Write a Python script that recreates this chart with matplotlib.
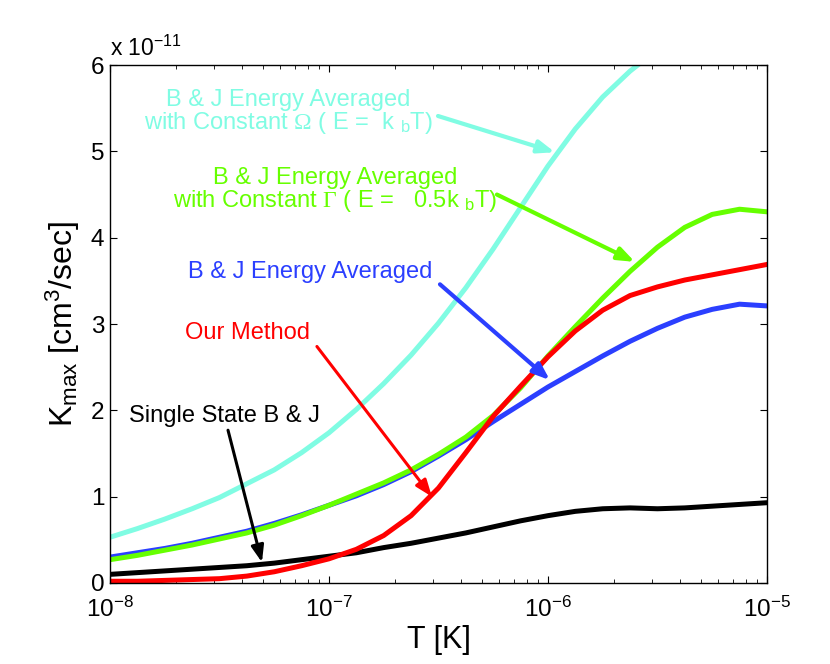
import numpy as np
import matplotlib
matplotlib.use('Agg')
import matplotlib.pyplot as plt

plt.rcParams['font.family'] = ['Liberation Sans', 'DejaVu Sans']
plt.rcParams['mathtext.fontset'] = 'custom'
plt.rcParams['mathtext.rm'] = 'Liberation Sans'
plt.rcParams['mathtext.it'] = 'Liberation Sans:italic'
plt.rcParams['mathtext.sf'] = 'Liberation Serif'

# temperature grid, log10(T [K])
log_t = [-8, -7.875, -7.75, -7.625, -7.5, -7.375, -7.25, -7.125, -7, -6.875,
         -6.75, -6.625, -6.5, -6.375, -6.25, -6.125, -6, -5.875, -5.75, -5.625,
         -5.5, -5.375, -5.25, -5.125, -5]

# K_max in units of 1e-11 cm^3/sec
k_omega = [0.53, 0.63, 0.74, 0.86, 0.99, 1.15, 1.31, 1.51, 1.74, 2.01,
           2.31, 2.64, 3.01, 3.42, 3.87, 4.35, 4.83, 5.26, 5.63, 5.93,
           6.18]
k_gamma = [0.27, 0.32, 0.38, 0.44, 0.51, 0.58, 0.67, 0.78, 0.90, 1.03,
           1.16, 1.31, 1.49, 1.69, 1.94, 2.26, 2.63, 2.97, 3.30, 3.61,
           3.89, 4.12, 4.27, 4.33, 4.30]
k_bj_avg = [0.30, 0.35, 0.40, 0.46, 0.53, 0.60, 0.69, 0.79, 0.90, 1.01,
            1.14, 1.29, 1.47, 1.66, 1.87, 2.07, 2.27, 2.45, 2.63, 2.80,
            2.95, 3.08, 3.17, 3.23, 3.21]
k_ours = [0.02, 0.02, 0.03, 0.04, 0.05, 0.08, 0.13, 0.20, 0.28, 0.39,
          0.55, 0.78, 1.10, 1.51, 1.93, 2.28, 2.62, 2.92, 3.16, 3.33,
          3.43, 3.51, 3.57, 3.63, 3.69]
k_single = [0.10, 0.12, 0.14, 0.16, 0.18, 0.20, 0.23, 0.27, 0.31, 0.35,
            0.41, 0.46, 0.52, 0.58, 0.65, 0.72, 0.78, 0.83, 0.86, 0.87,
            0.86, 0.87, 0.89, 0.91, 0.93]

T = 10.0 ** np.array(log_t)

c_cyan = '#80FCE3'
c_green = '#66FF00'
c_blue = '#2B3FFF'
c_red = '#FF0000'

fig = plt.figure(figsize=(8.3, 6.64), dpi=100)
ax = fig.add_axes([0.1325, 0.122, 0.7915, 0.780])

lw = 3.6
ax.plot(T[:len(k_omega)], k_omega, color=c_cyan, lw=lw)
ax.plot(T, k_bj_avg, color=c_blue, lw=lw)
ax.plot(T, k_gamma, color=c_green, lw=lw)
ax.plot(T, k_single, color='black', lw=lw)
ax.plot(T, k_ours, color=c_red, lw=lw)

ax.set_xscale('log')
ax.set_xlim(1e-8, 1e-5)
ax.set_ylim(0, 6)
ax.set_yticks([0, 1, 2, 3, 4, 5, 6])
ax.set_yticklabels(['0', '1', '2', '3', '4', '5', '6'])

ax.tick_params(which='both', direction='in', top=True, right=True, labelsize=17.5)
ax.tick_params(which='major', length=5, width=0.8)
ax.tick_params(which='minor', length=3, width=0.6)
ax.tick_params(axis='x', pad=10)
ax.tick_params(axis='y', pad=4)
for s in ax.spines.values():
    s.set_linewidth(1.0)

ax.set_xlabel('T [K]', fontsize=22, labelpad=2)
ax.set_ylabel(r'K$_{\rm max}$ [cm$^3$/sec]', fontsize=23, labelpad=6)
ax.text(0.0, 1.008, r'x 10$^{-11}$', transform=ax.transAxes, fontsize=16.5,
        ha='left', va='bottom')

fs = 17


def arrow(x0, y0, x1, y1, color, width):
    ax.annotate('', xy=(10 ** x1, y1), xytext=(10 ** x0, y0),
                arrowprops=dict(arrowstyle='-|>,head_length=1.0,head_width=0.38',
                                color=color, lw=width, shrinkA=0, shrinkB=0))


# cyan label
ax.text(10 ** -7.187, 5.45,
        'B & J Energy Averaged\n' + r'with Constant $\mathsf{\Omega}$ ( E =  k $_{\rm b}$T)',
        color=c_cyan, fontsize=fs, ha='center', va='center', linespacing=0.95)
arrow(-6.502, 5.41, -5.968, 4.99, c_cyan, 3.0)

# green label
ax.text(10 ** -6.973, 4.55,
        'B & J Energy Averaged\n' + r'with Constant $\mathsf{\Gamma}$ ( E =   0.5k $_{\rm b}$T)',
        color=c_green, fontsize=fs, ha='center', va='center', linespacing=0.95)
arrow(-6.233, 4.50, -5.603, 3.72, c_green, 3.0)

# blue label
ax.text(10 ** -7.087, 3.60, 'B & J Energy Averaged', color=c_blue, fontsize=fs,
        ha='center', va='center')
arrow(-6.493, 3.46, -5.991, 2.35, c_blue, 3.0)

# red label
ax.text(10 ** -7.37, 2.90, 'Our Method', color=c_red, fontsize=fs,
        ha='center', va='center')
arrow(-7.055, 2.74, -6.530, 1.0, c_red, 2.2)

# black label
ax.text(10 ** -7.479, 1.94, 'Single State B & J', color='black', fontsize=fs,
        ha='center', va='center')
arrow(-7.461, 1.77, -7.306, 0.24, 'black', 2.2)

fig.savefig('out.png', dpi=100)
